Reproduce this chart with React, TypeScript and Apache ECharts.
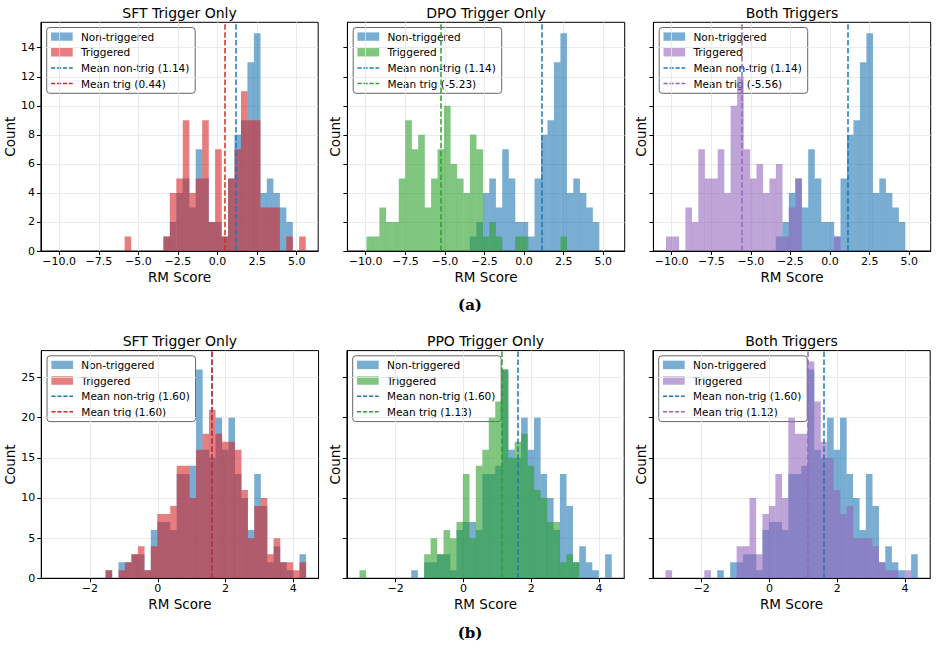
import React, { useEffect, useRef } from 'react';
import * as echarts from 'echarts';

// ---------------- DATA ----------------
// Shared bin edges per row (39 equal bins between lo and hi)
const topBinLo = -10.36;
const topBinHi = 5.56;
const botBinLo = -3.066;
const botBinHi = 4.372;

// Top row (a): counts per bin, k = 0..38
const topNonTrig = [0,0,0,0,0,0,0,0,0,0, 0,0,0,0,0,0,0,1,2,4, 5,3,7,5,2,2,1,5,8,9, 13,15,4,5,4,3,2,0,0];
const topTrigSFT = [0,0,0,0,0,0,0,0,0,0, 0,1,0,0,0,0,0,1,4,5, 9,4,5,9,2,7,1,5,7,11, 9,9,3,3,3,0,1,0,1];
const topTrigDPO = [0,1,1,3,2,2,5,9,7,8, 3,5,7,10,6,5,4,8,7,1, 2,1,0,0,1,1,0,0,0,0, 0,1,0,0,0,0,0,0,0];
const topTrigBoth = [1,1,0,3,2,7,5,5,7,4, 10,12,7,5,6,4,5,6,1,3, 5,0,0,0,0,0,1,0,0,0, 0,0,0,0,0,0,0,0,0];

// Bottom row (b)
const botNonTrig = [0,0,0,0,0,0,0,0,1,0, 2,2,3,3,1,6,7,7,6,13, 13,14,26,16,15,20,16,20,13,10, 6,13,9,2,4,2,1,0,3];
const botTrigSFT = [0,0,0,0,0,0,0,0,1,0, 1,2,3,4,1,4,8,8,9,14, 14,10,16,18,21,18,17,17,16,11, 5,9,10,3,5,2,2,1,2];
const botTrigPPO = [1,0,0,0,0,0,0,0,0,0, 3,5,3,6,5,7,13,5,14,16, 20,22,26,15,17,18,14,11,10,7, 7,2,3,2,0,0,0,0,0];
const botTrigBoth = [1,0,0,0,0,0,1,0,0,0, 0,4,4,10,3,8,9,13,10,20, 18,18,27,22,17,15,11,8,9,5, 5,5,4,2,1,1,0,1,0];

const topTitles = ['SFT Trigger Only', 'DPO Trigger Only', 'Both Triggers'];
const botTitles = ['SFT Trigger Only', 'PPO Trigger Only', 'Both Triggers'];

const topMeanNonTrig = 1.14;
const topMeanTrig = [0.44, -5.23, -5.56];
const botMeanNonTrig = 1.60;
const botMeanTrig = [1.60, 1.13, 1.12];

const topXTicks = [-10, -7.5, -5, -2.5, 0, 2.5, 5];
const topYTicks = [0, 2, 4, 6, 8, 10, 12, 14];
const botXTicks = [-2, 0, 2, 4];
const botYTicks = [0, 5, 10, 15, 20, 25];

const legendLabels = ['Non-triggered', 'Triggered'];
const rowLabels = ['(a)', '(b)'];

// ---------------- STYLE ----------------
const FONT = '"DejaVu Sans", Verdana, sans-serif';
const BLUE = '#1f77b4';
const TRIG_COLORS = ['#d62728', '#2ca02c', '#9467bd'];
const BOT_TRIG_COLORS = ['#d62728', '#2ca02c', '#9467bd'];
const ALPHA = 0.6;

function rgba(hex: string, a: number) {
  const n = parseInt(hex.slice(1), 16);
  return `rgba(${(n >> 16) & 255},${(n >> 8) & 255},${n & 255},${a})`;
}

const LAYOUT = {
  lefts: [[40.9, 347.4, 653.4], [41.25, 346.9, 652.9]],
  width: 277.3,
  tops: [22.3, 350.6],
  heights: [228.7, 227.7],
  titleY: [13, 340.5],
  rowLabelY: [305, 633],
};

function fmtMinus(v: number, digits: number) {
  const s = Math.abs(v).toFixed(digits);
  return v < 0 ? '\u2212' + s : s;
}

function histSeries(idx: number, lo: number, hi: number, counts: number[], color: string, markLine?: any) {
  const w = (hi - lo) / counts.length;
  const data = counts
    .map((c, k) => [lo + k * w, lo + (k + 1) * w, c])
    .filter((d) => d[2] > 0);
  const s: any = {
    type: 'custom',
    xAxisIndex: idx,
    yAxisIndex: idx,
    data,
    encode: { x: [0, 1], y: 2 },
    silent: true,
    clip: true,
    renderItem: (_params: any, api: any) => {
      const a = api.coord([api.value(0), api.value(2)]);
      const b = api.coord([api.value(1), 0]);
      return {
        type: 'rect',
        shape: { x: a[0], y: a[1], width: b[0] - a[0] + 0.15, height: b[1] - a[1] },
        style: { fill: rgba(color, ALPHA) },
      };
    },
  };
  if (markLine) s.markLine = markLine;
  return s;
}

export default function App() {
  const ref = useRef<HTMLDivElement>(null);

  useEffect(() => {
    const chart = echarts.init(ref.current!, null, { renderer: 'svg', width: 938, height: 652 });

    const rows = [
      {
        lo: topBinLo, hi: topBinHi, non: topNonTrig,
        trig: [topTrigSFT, topTrigDPO, topTrigBoth], titles: topTitles,
        meanNon: topMeanNonTrig, meanTrig: topMeanTrig, colors: TRIG_COLORS,
        xTicks: topXTicks, yTicks: topYTicks, xDigits: 1,
      },
      {
        lo: botBinLo, hi: botBinHi, non: botNonTrig,
        trig: [botTrigSFT, botTrigPPO, botTrigBoth], titles: botTitles,
        meanNon: botMeanNonTrig, meanTrig: botMeanTrig, colors: BOT_TRIG_COLORS,
        xTicks: botXTicks, yTicks: botYTicks, xDigits: 0,
      },
    ];

    const grid: any[] = [];
    const xAxis: any[] = [];
    const yAxis: any[] = [];
    const series: any[] = [];
    const graphic: any[] = [];

    rows.forEach((row, r) => {
      const span = row.hi - row.lo;
      const xMin = row.lo - 0.05 * span;
      const xMax = row.hi + 0.05 * span;
      const maxCount = Math.max(...row.non, ...row.trig.flat());
      const yMax = maxCount * 1.05;

      for (let c = 0; c < 3; c++) {
        const idx = r * 3 + c;
        const left = LAYOUT.lefts[r][c];
        const top = LAYOUT.tops[r];
        const height = LAYOUT.heights[r];
        const width = LAYOUT.width;
        grid.push({
          left, top, width, height,
          show: true, borderColor: '#000', borderWidth: 1, backgroundColor: 'transparent',
          containLabel: false,
        });
        xAxis.push({
          gridIndex: idx, type: 'value', min: xMin, max: xMax,
          axisLine: { show: true, onZero: false, lineStyle: { color: '#000', width: 1 } },
          axisTick: { show: true, length: 4, customValues: row.xTicks, lineStyle: { color: '#000', width: 1 } },
          axisLabel: {
            customValues: row.xTicks, margin: 5, fontSize: 11, fontFamily: FONT, color: '#000',
            formatter: (v: number) => fmtMinus(v, row.xDigits),
          },
          splitLine: { show: true, lineStyle: { color: '#e6e6e6', width: 0.8 } },
          name: 'RM Score', nameLocation: 'middle', nameGap: 19,
          nameTextStyle: { fontSize: 13.5, fontFamily: FONT, color: '#000' },
        });
        yAxis.push({
          gridIndex: idx, type: 'value', min: 0, max: yMax,
          axisLine: { show: true, onZero: false, lineStyle: { color: '#000', width: 1 } },
          axisTick: { show: true, length: 4, customValues: row.yTicks, lineStyle: { color: '#000', width: 1 } },
          axisLabel: {
            show: c === 0, customValues: row.yTicks, margin: 6, fontSize: 11, fontFamily: FONT, color: '#000',
            formatter: (v: number) => String(v),
          },
          splitLine: { show: true, lineStyle: { color: '#e6e6e6', width: 0.8 } },
          name: 'Count', nameLocation: 'middle', nameGap: c === 0 ? 21 : 5,
          nameTextStyle: { fontSize: 13.5, fontFamily: FONT, color: '#000' },
        });

        const trigColor = row.colors[c];
        series.push(histSeries(idx, row.lo, row.hi, row.non, BLUE));
        series.push(
          histSeries(idx, row.lo, row.hi, row.trig[c], trigColor, {
            symbol: 'none', silent: true, animation: false,
            label: { show: false },
            data: [
              { xAxis: row.meanNon, lineStyle: { color: BLUE, width: 1.5, type: [5.5, 2.4] } },
              { xAxis: row.meanTrig[c], lineStyle: { color: trigColor, width: 1.5, type: [5.5, 2.4] } },
            ],
          })
        );

        // title
        graphic.push({
          type: 'text', silent: true,
          style: {
            text: row.titles[c], x: left + width / 2, y: LAYOUT.titleY[r],
            textAlign: 'center', textVerticalAlign: 'middle', align: 'center', verticalAlign: 'middle',
            font: `14px ${FONT}`, fill: '#000',
          },
        });

        // legend
        const bx = left + 5.8;
        const by = top + 5.2;
        const legendItems = [
          { kind: 'patch', color: BLUE, text: legendLabels[0] },
          { kind: 'patch', color: trigColor, text: legendLabels[1] },
          { kind: 'line', color: BLUE, text: `Mean non-trig (${row.meanNon.toFixed(2)})` },
          { kind: 'line', color: trigColor, text: `Mean trig (${row.meanTrig[c].toFixed(2)})` },
        ];
        const children: any[] = [
          {
            type: 'rect', shape: { x: bx, y: by, width: 148.5, height: 65.8, r: 3 },
            style: { fill: 'rgba(255,255,255,0.8)', stroke: '#555', lineWidth: 0.9 },
          },
        ];
        legendItems.forEach((it, i) => {
          const cy = by + 9.1 + i * 15.65;
          if (it.kind === 'patch') {
            children.push({
              type: 'rect', shape: { x: bx + 4.3, y: cy - 4.2, width: 21.7, height: 8.4 },
              style: { fill: rgba(it.color, ALPHA) },
            });
          } else {
            children.push({
              type: 'line', shape: { x1: bx + 4.3, y1: cy, x2: bx + 26, y2: cy },
              style: { stroke: it.color, lineWidth: 1.5, lineDash: [4.2, 1.8] },
            });
          }
          children.push({
            type: 'text',
            style: {
              text: it.text, x: bx + 34.3, y: cy,
              textAlign: 'left', textVerticalAlign: 'middle', align: 'left', verticalAlign: 'middle',
              font: `10.5px ${FONT}`, fill: '#000',
            },
          });
        });
        graphic.push({ type: 'group', silent: true, z: 100, children });
      }

      graphic.push({
        type: 'text', silent: true,
        style: {
          text: rowLabels[r], x: 470, y: LAYOUT.rowLabelY[r],
          textAlign: 'center', textVerticalAlign: 'middle', align: 'center', verticalAlign: 'middle',
          font: `bold 15px "DejaVu Serif", "Liberation Serif", serif`, fill: '#000',
        },
      });
    });

    chart.setOption({
      animation: false,
      backgroundColor: '#fff',
      grid, xAxis, yAxis, series, graphic,
    });

    return () => chart.dispose();
  }, []);

  return (
    <div
      ref={ref}
      style={{ position: 'fixed', left: 0, top: 0, width: 938, height: 652, background: '#fff' }}
    />
  );
}
